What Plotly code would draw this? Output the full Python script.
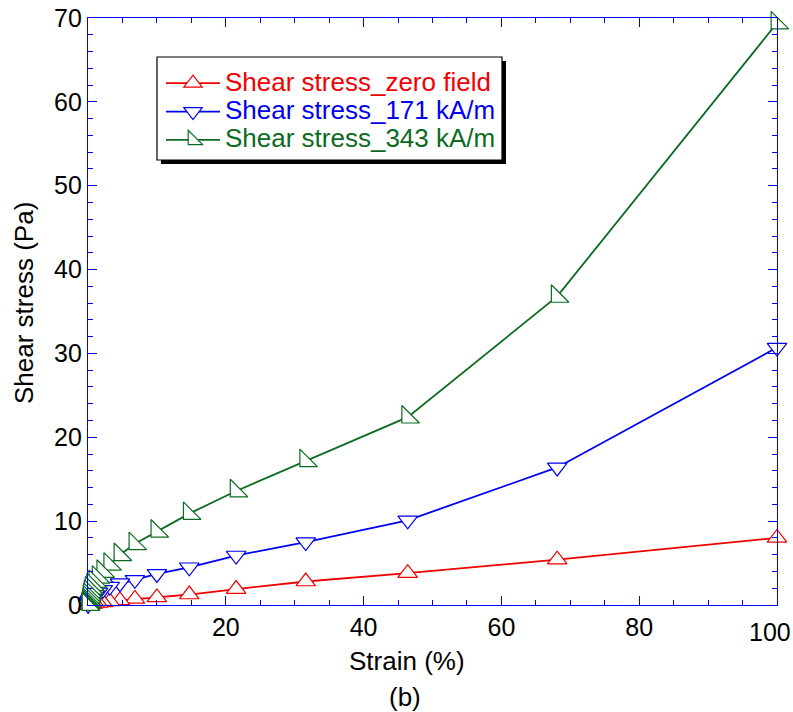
import plotly.graph_objects as go

# Oscillatory amplitude sweep: shear stress vs strain at three field strengths
strain = [100, 68.1, 46.4, 31.6, 21.5, 14.7, 10, 6.81, 4.64, 3.16, 2.15, 1.47, 1.0,
          0.681, 0.464, 0.316, 0.215, 0.147, 0.1, 0.0681, 0.0464, 0.0316, 0.0215,
          0.0147, 0.01]

stress_zero = [8.0, 5.4, 3.8, 2.8, 1.9, 1.25, 0.9, 0.72, 0.55, 0.42, 0.32, 0.24, 0.18,
               0.13, 0.1, 0.07, 0.05, 0.04, 0.03, 0.02, 0.015, 0.01, 0.008, 0.006, 0.004]
stress_171 = [30.7, 16.4, 10.1, 7.5, 5.9, 4.5, 3.7, 3.0, 2.6, 2.2, 1.8, 1.5, 1.2,
              0.95, 0.75, 0.58, 0.45, 0.35, 0.27, 0.2, 0.15, 0.11, 0.08, 0.06, 0.045]
stress_343 = [69.4, 36.8, 22.4, 17.2, 13.6, 10.9, 8.8, 7.3, 6.0, 4.85, 4.0, 3.3, 2.8,
              2.4, 2.0, 1.6, 1.25, 0.95, 0.65, 0.45, 0.3, 0.2, 0.13, 0.09, 0.06]

series_names = ["Shear stress_zero field", "Shear stress_171 kA/m", "Shear stress_343 kA/m"]
series_values = [stress_zero, stress_171, stress_343]
series_colors = ["#F00000", "#0000F0", "#0C6B22"]
series_symbols = ["triangle-up", "triangle-down", "triangle-sw"]
series_sizes = [17, 17, 19.5]

x_ticks = [20, 40, 60, 80, 100]
y_ticks = [0, 10, 20, 30, 40, 50, 60, 70]

FONT = "Liberation Sans, Arial, sans-serif"
AXIS_BLUE = "#0000FF"

# plot-area geometry in pixels (used to place the legend frame)
W, H = 793, 712
ML, MR, MT, MB = 88, 16, 18, 107
PW, PH = W - ML - MR, H - MT - MB


def px_to_paper(px, py):
    return (px - ML) / PW, (H - MB - py) / PH


fig = go.Figure()
for name, vals, col, sym, sz in zip(series_names, series_values, series_colors,
                                    series_symbols, series_sizes):
    fig.add_trace(go.Scatter(
        x=strain, y=vals, mode="lines+markers",
        name=f'<span style="color:{col};font-size:26px">{name}</span>',
        line=dict(color=col, width=1.8),
        marker=dict(symbol=sym, size=sz, color="white",
                    line=dict(color=col, width=1.2)),
        cliponaxis=False,
    ))

axis_common = dict(
    showline=True, linecolor=AXIS_BLUE, linewidth=1.3, mirror="allticks",
    ticks="inside", tickcolor=AXIS_BLUE, ticklen=9, tickwidth=1.2,
    showgrid=False, zeroline=False, automargin=False,
    tickfont=dict(family=FONT, size=25, color="black"),
)

# the last x label sits at the right edge of the page, so it is drawn
# separately, nudged inward to stay fully visible
x_ticktext = [str(v) for v in x_ticks[:-1]] + [""]

fig.update_xaxes(range=[0, 100], tickvals=x_ticks, ticktext=x_ticktext,
                 minor=dict(dtick=5, ticks="inside", ticklen=5, tickcolor=AXIS_BLUE,
                            tickwidth=1.2, showgrid=False),
                 **axis_common)
fig.update_yaxes(range=[0, 70], tickvals=y_ticks,
                 minor=dict(dtick=2, ticks="inside", ticklen=5, tickcolor=AXIS_BLUE,
                            tickwidth=1.2, showgrid=False),
                 **axis_common)

# legend frame: white box with black border and a drop shadow
bx0, by0 = px_to_paper(157, 57)
bx1, by1 = px_to_paper(502, 160)
sx0, sy0 = px_to_paper(161, 61)
sx1, sy1 = px_to_paper(506, 164)
lx, ly = px_to_paper(161, 64)

fig.update_layout(
    width=W, height=H,
    margin=dict(l=ML, r=MR, t=MT, b=MB, autoexpand=False),
    paper_bgcolor="white", plot_bgcolor="white",
    font=dict(family=FONT, size=25, color="black"),
    showlegend=True,
    legend=dict(x=lx, y=ly, xanchor="left", yanchor="top",
                bgcolor="rgba(0,0,0,0)", borderwidth=0,
                font=dict(family=FONT, size=19.5), itemwidth=54,
                tracegroupgap=0),
    shapes=[
        dict(type="rect", xref="paper", yref="paper",
             x0=sx0, y0=sy0, x1=sx1, y1=sy1,
             fillcolor="black", line=dict(width=0), layer="above"),
        dict(type="rect", xref="paper", yref="paper",
             x0=bx0, y0=by0, x1=bx1, y1=by1,
             fillcolor="white", line=dict(color="black", width=1.2), layer="above"),
    ],
    annotations=[
        dict(text=str(x_ticks[-1]), xref="x", yref="paper", x=x_ticks[-1],
             y=px_to_paper(0, 632)[1], xanchor="right", yanchor="middle",
             xshift=16, showarrow=False,
             font=dict(family=FONT, size=25, color="black")),
        dict(text="Strain (%)", xref="paper", yref="paper", x=0.463, y=-0.0954,
             xanchor="center", yanchor="middle", showarrow=False,
             font=dict(family=FONT, size=26, color="black")),
        dict(text="(b)", xref="paper", yref="paper", x=0.46, y=-0.157,
             xanchor="center", yanchor="middle", showarrow=False,
             font=dict(family=FONT, size=26, color="black")),
        dict(text="Shear stress (Pa)", xref="paper", yref="paper", x=-0.0929, y=0.5145,
             xanchor="center", yanchor="middle", textangle=-90, showarrow=False,
             font=dict(family=FONT, size=26, color="black")),
    ],
)

fig.write_html("out.html")
